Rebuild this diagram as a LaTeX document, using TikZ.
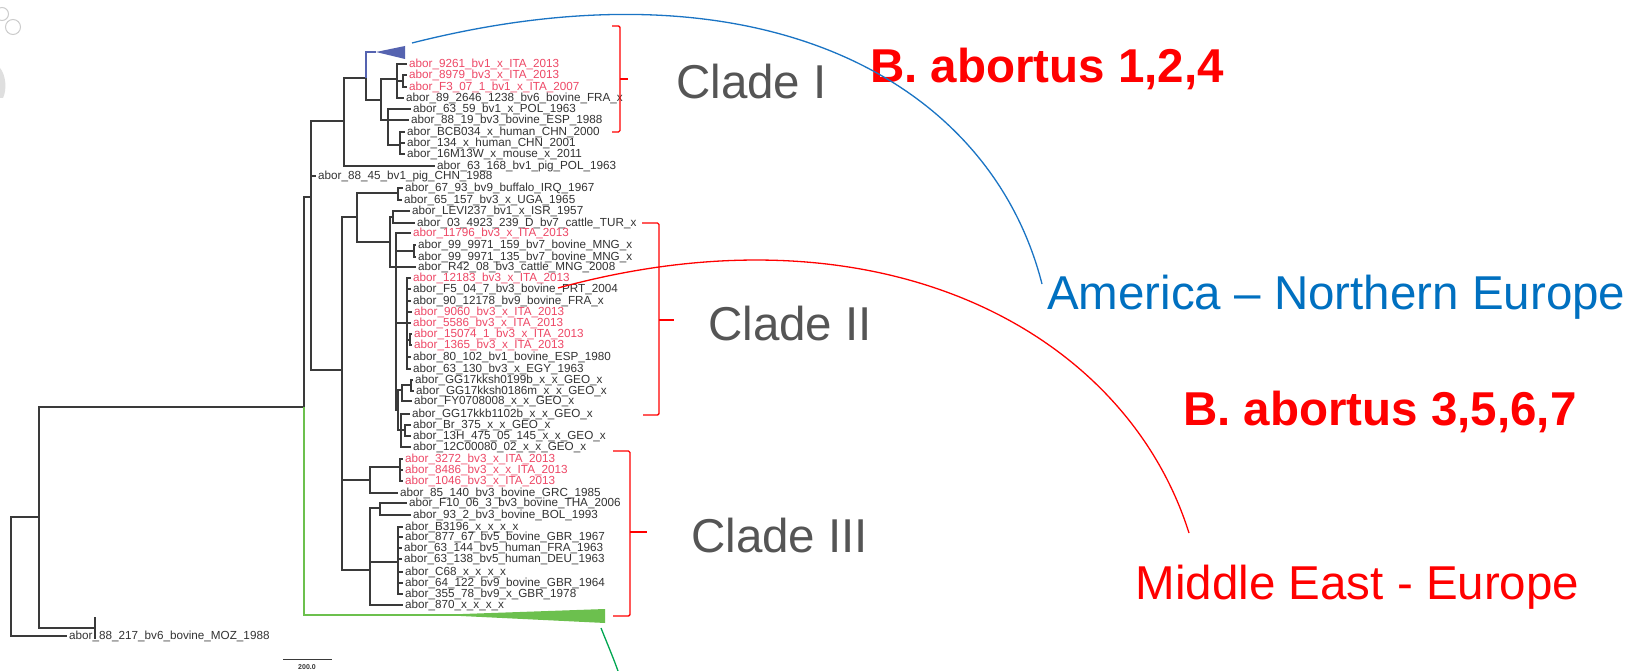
\documentclass[tikz,border=0pt]{standalone}
\usepackage{fontspec}
\setmainfont{Liberation Sans}
\definecolor{treegray}{HTML}{3A3A3A}
\definecolor{labgray}{HTML}{333333}
\definecolor{labred}{HTML}{EE4866}
\definecolor{cladegray}{HTML}{555555}
\definecolor{pptred}{HTML}{FF0000}
\definecolor{pptblue}{HTML}{0070C0}
\definecolor{arcblue}{HTML}{1A74C4}
\definecolor{treeblue}{HTML}{5563B0}
\definecolor{treegreen}{HTML}{6CC04E}
\definecolor{arcgreen}{HTML}{00A651}
\newcommand\labfont{\fontsize{11.7}{12}\selectfont}
\newcommand\cladefont{\fontsize{47.5}{50}\selectfont}
\begin{document}
\begin{tikzpicture}[x=1pt,y=-1pt,
  br/.style={draw=treegray,line width=1.3pt},
  bbr/.style={draw=treeblue,line width=1.3pt},
  gbr/.style={draw=treegreen,line width=1.6pt},
  leaf/.style={font=\labfont,text=labgray,anchor=west,inner xsep=2pt,inner ysep=0pt,text height=8.4pt,text depth=2.2pt},
  leafr/.style={leaf,text=labred},
  bracket/.style={draw=pptred,line width=1.4pt,rounded corners=1.5pt},
  clade/.style={font=\cladefont,text=cladegray,anchor=base west,inner sep=0pt},
  bigred/.style={font=\cladefont\bfseries,text=pptred,anchor=base west,inner sep=0pt},
  region/.style={font=\cladefont,anchor=base west,inner sep=0pt}]
\useasboundingbox (0,0) rectangle (1643,671);
\fill[white] (0,0) rectangle (1643,671);
% faint background marks
\draw[gray!40,line width=1pt] (13,27) circle[radius=7.5pt];
\draw[gray!40,line width=1pt] (2,14) circle[radius=6.5pt];
\fill[gray!25] (0,68) .. controls (6,75) and (7,90) .. (3,98) -- (0,98) -- cycle;
% internal nodes
\coordinate (R0) at (11,576);
\coordinate (R1) at (39,517);
\coordinate (T) at (95,628);
\coordinate (T1) at (95,617);
\coordinate (T2) at (95,639);
\coordinate (R2) at (304,407);
\coordinate (Gapex) at (457,615);
\coordinate (Gtop) at (605,609);
\coordinate (Gbot) at (605,623);
\coordinate (R3) at (311,197);
\coordinate (N1) at (344,121);
\coordinate (N2) at (366,78);
\coordinate (Bapex) at (376,52);
\coordinate (Btop) at (405,46);
\coordinate (Bbot) at (405,59);
\coordinate (N3) at (381,100);
\coordinate (N4) at (397,79);
\coordinate (N4b) at (403,81);
\coordinate (N5) at (388,120);
\coordinate (N6) at (400,145);
\coordinate (C23) at (342,370);
\coordinate (C2) at (357,217);
\coordinate (P1) at (398,193);
\coordinate (C2b) at (390,242);
\coordinate (C2c) at (393,217);
\coordinate (C2d) at (396,267);
\coordinate (P2) at (414,251);
\coordinate (C2e) at (407,323);
\coordinate (P4) at (410,340);
\coordinate (G1) at (398,410);
\coordinate (G2) at (402,390);
\coordinate (P5) at (411,385);
\coordinate (G3) at (401,430);
\coordinate (P6) at (405,430);
\coordinate (C3A) at (370,480);
\coordinate (P7) at (400,467);
\coordinate (C3B) at (370,570);
\coordinate (P8) at (380,508);
\coordinate (P9) at (398,562);
% leaves
\node[leafr] (L1) at (407,64) {abor\_9261\_bv1\_x\_ITA\_2013};
\node[leafr] (L2) at (407,75) {abor\_8979\_bv3\_x\_ITA\_2013};
\node[leafr] (L3) at (407,87) {abor\_F3\_07\_1\_bv1\_x\_ITA\_2007};
\node[leaf] (L4) at (404,98) {abor\_89\_2646\_1238\_bv6\_bovine\_FRA\_x};
\node[leaf] (L5) at (411,109) {abor\_63\_59\_bv1\_x\_POL\_1963};
\node[leaf] (L6) at (409,120) {abor\_88\_19\_bv3\_bovine\_ESP\_1988};
\node[leaf] (L7) at (405,132) {abor\_BCB034\_x\_human\_CHN\_2000};
\node[leaf] (L8) at (405,143) {abor\_134\_x\_human\_CHN\_2001};
\node[leaf] (L9) at (405,154) {abor\_16M13W\_x\_mouse\_x\_2011};
\node[leaf] (L10) at (435,166) {abor\_63\_168\_bv1\_pig\_POL\_1963};
\node[leaf] (L11) at (316,176) {abor\_88\_45\_bv1\_pig\_CHN\_1988};
\node[leaf] (L12) at (403,188) {abor\_67\_93\_bv9\_buffalo\_IRQ\_1967};
\node[leaf] (L13) at (402,200) {abor\_65\_157\_bv3\_x\_UGA\_1965};
\node[leaf] (L14) at (410,211) {abor\_LEVI237\_bv1\_x\_ISR\_1957};
\node[leaf] (L15) at (415,223) {abor\_03\_4923\_239\_D\_bv7\_cattle\_TUR\_x};
\node[leafr] (L16) at (411,233) {abor\_11796\_bv3\_x\_ITA\_2013};
\node[leaf] (L17) at (416,245) {abor\_99\_9971\_159\_bv7\_bovine\_MNG\_x};
\node[leaf] (L18) at (416,257) {abor\_99\_9971\_135\_bv7\_bovine\_MNG\_x};
\node[leaf] (L19) at (416,267) {abor\_R42\_08\_bv3\_cattle\_MNG\_2008};
\node[leafr] (L20) at (411,278) {abor\_12183\_bv3\_x\_ITA\_2013};
\node[leaf] (L21) at (411,289) {abor\_F5\_04\_7\_bv3\_bovine\_PRT\_2004};
\node[leaf] (L22) at (411,301) {abor\_90\_12178\_bv9\_bovine\_FRA\_x};
\node[leafr] (L23) at (412,312) {abor\_9060\_bv3\_x\_ITA\_2013};
\node[leafr] (L24) at (411,323) {abor\_5586\_bv3\_x\_ITA\_2013};
\node[leafr] (L25) at (412,334) {abor\_15074\_1\_bv3\_x\_ITA\_2013};
\node[leafr] (L26) at (412,345) {abor\_1365\_bv3\_x\_ITA\_2013};
\node[leaf] (L27) at (411,357) {abor\_80\_102\_bv1\_bovine\_ESP\_1980};
\node[leaf] (L28) at (411,369) {abor\_63\_130\_bv3\_x\_EGY\_1963};
\node[leaf] (L29) at (413,380) {abor\_GG17kksh0199b\_x\_x\_GEO\_x};
\node[leaf] (L30) at (414,391) {abor\_GG17kksh0186m\_x\_x\_GEO\_x};
\node[leaf] (L31) at (412,401) {abor\_FY0708008\_x\_x\_GEO\_x};
\node[leaf] (L32) at (410,414) {abor\_GG17kkb1102b\_x\_x\_GEO\_x};
\node[leaf] (L33) at (411,425) {abor\_Br\_375\_x\_x\_GEO\_x};
\node[leaf] (L34) at (411,436) {abor\_13H\_475\_05\_145\_x\_x\_GEO\_x};
\node[leaf] (L35) at (411,447) {abor\_12C00080\_02\_x\_x\_GEO\_x};
\node[leafr] (L36) at (403,459) {abor\_3272\_bv3\_x\_ITA\_2013};
\node[leafr] (L37) at (403,470) {abor\_8486\_bv3\_x\_x\_ITA\_2013};
\node[leafr] (L38) at (403,481) {abor\_1046\_bv3\_x\_ITA\_2013};
\node[leaf] (L39) at (398,493) {abor\_85\_140\_bv3\_bovine\_GRC\_1985};
\node[leaf] (L40) at (407,503) {abor\_F10\_06\_3\_bv3\_bovine\_THA\_2006};
\node[leaf] (L41) at (411,515) {abor\_93\_2\_bv3\_bovine\_BOL\_1993};
\node[leaf] (L42) at (403,527) {abor\_B3196\_x\_x\_x\_x};
\node[leaf] (L43) at (403,537) {abor\_877\_67\_bv5\_bovine\_GBR\_1967};
\node[leaf] (L44) at (402,548) {abor\_63\_144\_bv5\_human\_FRA\_1963};
\node[leaf] (L45) at (402,559) {abor\_63\_138\_bv5\_human\_DEU\_1963};
\node[leaf] (L46) at (403,572) {abor\_C68\_x\_x\_x\_x};
\node[leaf] (L47) at (403,583) {abor\_64\_122\_bv9\_bovine\_GBR\_1964};
\node[leaf] (L48) at (403,594) {abor\_355\_78\_bv9\_x\_GBR\_1978};
\node[leaf] (L49) at (403,605) {abor\_870\_x\_x\_x\_x};
\node[leaf] (L50) at (67,636) {abor\_88\_217\_bv6\_bovine\_MOZ\_1988};
% branches
\foreach \p/\c in {R0/R1, R0/L50.west, R1/R2, R1/T, R2/R3,
  R3/N1, R3/L11.west, R3/C23, N1/N2, N1/L10.west, N2/N3,
  N3/N4, N3/N5, N4/L1.west, N4/N4b, N4/L4.west, N4b/L2.west, N4b/L3.west,
  N5/L5.west, N5/L6.west, N5/N6, N6/L7.west, N6/L8.west, N6/L9.west,
  C23/C2, C23/C3A, C23/C3B, C2/P1, C2/C2b, P1/L12.west, P1/L13.west,
  C2b/C2c, C2b/C2d, C2c/L14.west, C2c/L15.west,
  C2d/L16.west, C2d/P2, C2d/L19.west, C2d/C2e, C2d/G1,
  P2/L17.west, P2/L18.west,
  C2e/L20.west, C2e/L21.west, C2e/L22.west, C2e/L23.west, C2e/L24.west,
  C2e/P4, C2e/L27.west, C2e/L28.west, P4/L25.west, P4/L26.west,
  G1/G2, G1/G3, G2/P5, G2/L31.west, P5/L29.west, P5/L30.west,
  G3/L32.west, G3/P6, G3/L35.west, P6/L33.west, P6/L34.west,
  C3A/P7, C3A/L39.west, P7/L36.west, P7/L37.west, P7/L38.west,
  C3B/P8, C3B/P9, C3B/L49.west, P8/L40.west, P8/L41.west,
  P9/L42.west, P9/L43.west, P9/L44.west, P9/L45.west, P9/L46.west,
  P9/L47.west, P9/L48.west}
  \draw[br] (\p) |- (\c);
\draw[br] (T1) -- (T2);
% collapsed clades
\draw[bbr] (N2) |- (Bapex);
\fill[treeblue] (Bapex) -- (Btop) -- (Bbot) -- cycle;
\draw[gbr] (R2) |- (Gapex);
\fill[treegreen] ([yshift=0.8pt]Gapex) -- (Gtop) -- (Gbot) -- ([yshift=-0.8pt]Gapex) -- cycle;
% scale bar
\coordinate (S1) at (283,659);
\coordinate (S2) at (332,659);
\draw[treegray,line width=0.8pt] (S1) -- (S2);
\node[font=\fontsize{7}{7}\selectfont\bfseries,text=labgray,inner sep=0pt] (Slab) at (307,667) {200.0};
% brackets
\draw[bracket] (612,26) -- (620,26) -- (620,132) -- (612,132);
\draw[bracket] (620,79) -- (628,79);
\draw[bracket] (642,223) -- (659,223) -- (659,415) -- (643,415);
\draw[bracket] (659,320) -- (674,320);
\draw[bracket] (613,451) -- (630,451) -- (630,616) -- (613,616);
\draw[bracket] (630,532) -- (647,532);
% clade labels
\node[clade] (CI) at (676,99) {Clade I};
\node[clade] (CII) at (708,340) {Clade II};
\node[clade] (CIII) at (691,552) {Clade III};
\node[bigred] (BA1) at (870,82.6) {B. abortus 1,2,4};
\node[bigred] (BA2) at (1183,425.8) {B. abortus 3,5,6,7};
\node[region,text=pptblue] (AME) at (1047,309) {America – Northern Europe};
\node[region,text=pptred] (MEE) at (1135.5,599) {Middle East - Europe};
% arcs
\coordinate (Bs) at (412,43);
\coordinate (Be) at (1042,284);
\draw[arcblue,line width=1.3pt] (Bs) .. controls (760,-45) and (990,80) .. (Be);
\coordinate (Rs) at (558,288);
\coordinate (Re) at (1189,533);
\draw[pptred,line width=1.3pt] (Rs) .. controls (880,200) and (1125,330) .. (Re);
\coordinate (Gs) at (601,628);
\coordinate (Ge) at (618,671);
\draw[arcgreen,line width=1.3pt] (Gs) .. controls (607,643) and (613,657) .. (Ge);
\end{tikzpicture}
\end{document}
